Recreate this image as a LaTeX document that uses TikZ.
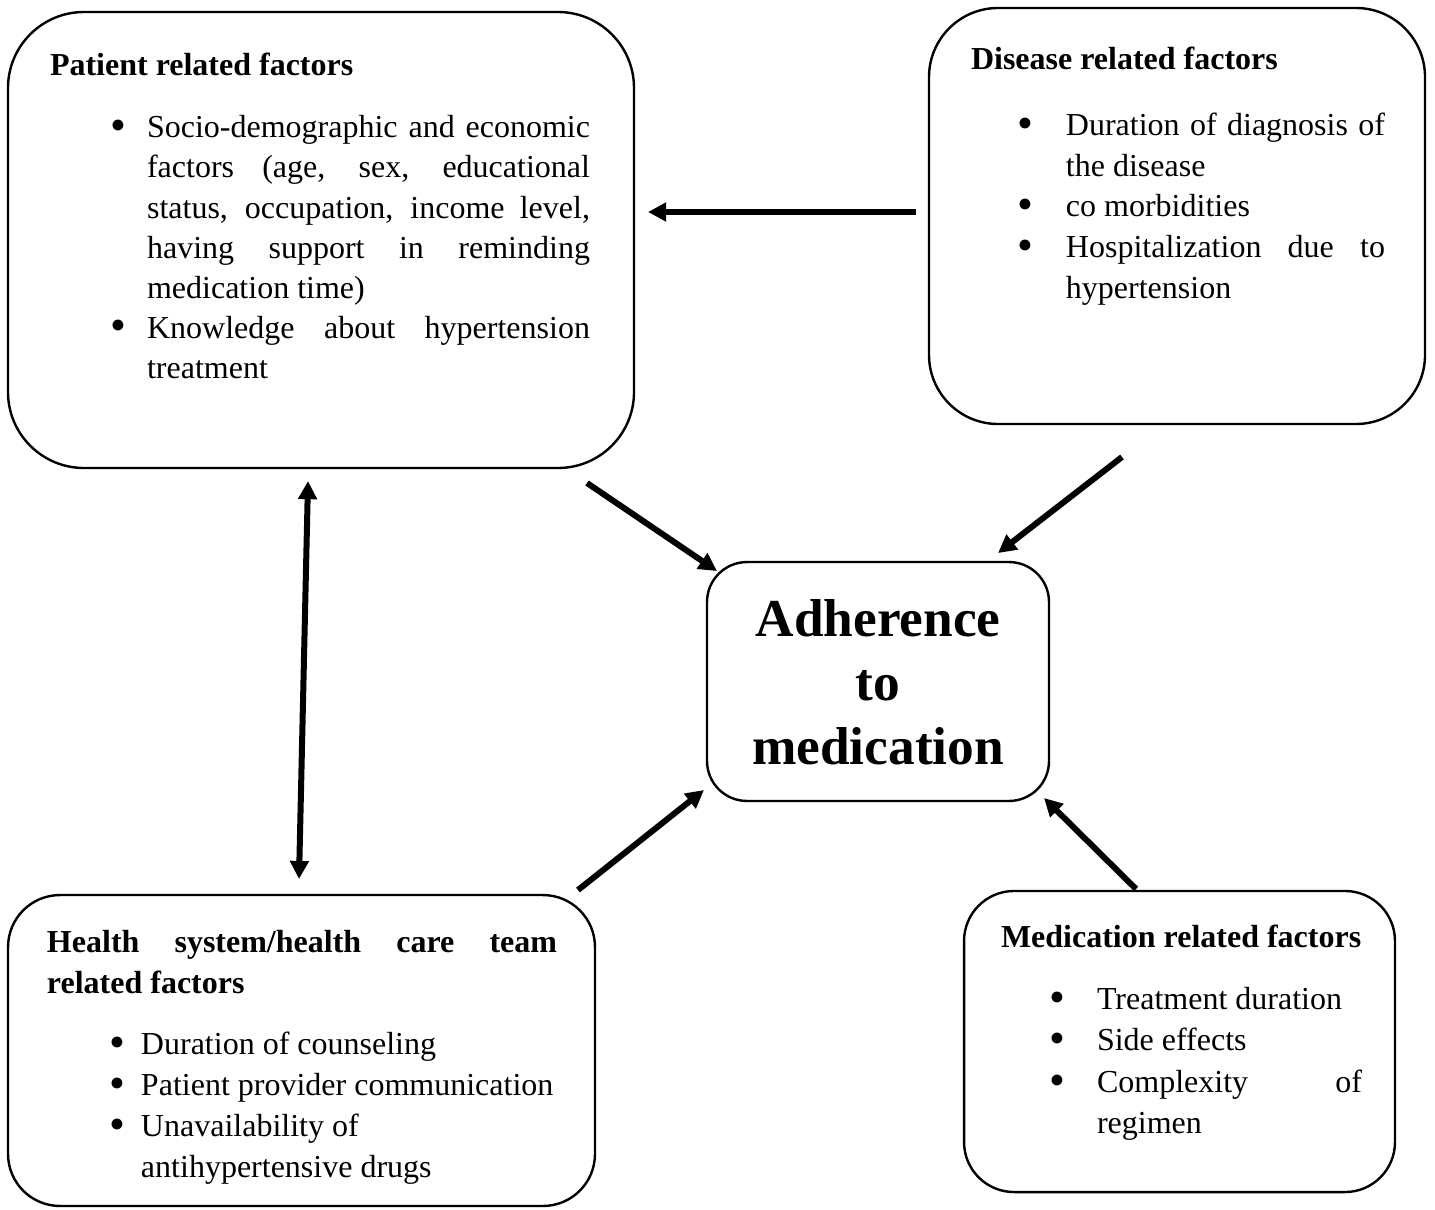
\documentclass[tikz,border=0pt]{standalone}
\usepackage{fontspec}
\setmainfont{Liberation Serif}
\usetikzlibrary{arrows.meta,calc}
\newcommand\setpen{\hyphenpenalty=10000\relax\exhyphenpenalty=10000\relax\tolerance=10000\relax}
\newcommand\bigbul{\smash{\raisebox{-1.1pt}{\fontsize{17}{17}\selectfont\textbullet}}}
\newcommand\bitem[3]{\par\noindent\hangindent=#1\hangafter=1\hbox to #1{\hskip #2\bigbul\hss}\ignorespaces #3\par}
\tikzset{
  box/.style={draw, line width=0.9pt, inner sep=0pt, outer sep=0pt},
  txt/.style={anchor=base west, inner sep=0pt, outer sep=0pt, align=justify},
  body/.style={font=\fontsize{12}{#1}\selectfont},
  arr/.style={line width=2.25pt, -{Triangle[length=6.8pt,width=6.8pt]}},
  dbl/.style={line width=2.25pt, {Triangle[length=6.8pt,width=6.8pt]}-{Triangle[length=6.8pt,width=6.8pt]}}
}
\begin{document}
\begin{tikzpicture}[x=0.375pt,y=-0.375pt]
\useasboundingbox (0,0) rectangle (1435,1209);
% boxes
\node[box, rounded corners=28.5pt, minimum width=234.75pt, minimum height=171pt] (pat) at (321,240) {};
\node[box, rounded corners=25.9pt, minimum width=186pt, minimum height=156pt] (dis) at (1177,216) {};
\node[box, rounded corners=15pt, minimum width=128.25pt, minimum height=89.6pt] (adh) at (878,681.5) {};
\node[box, rounded corners=19.5pt, minimum width=220.1pt, minimum height=116.6pt] (hea) at (301.5,1050.5) {};
\node[box, rounded corners=18.75pt, minimum width=161.6pt, minimum height=112.9pt] (med) at (1179.5,1041.5) {};
% texts
\node[txt, body=15pt, text width=202.5pt] (patT) at (50,76) {\setpen\textbf{Patient related factors}\par\vspace{8.25pt}
\bitem{36.4pt}{22.5pt}{Socio-demographic and economic\linebreak factors (age, sex, educational\linebreak status, occupation, income level,\linebreak having support in reminding\linebreak medication time)}
\bitem{36.4pt}{22.5pt}{Knowledge about hypertension\linebreak treatment}};
\node[txt, body=15.3pt, text width=155.25pt] (disT) at (971,70) {\setpen\textbf{Disease related factors}\par\vspace{9.2pt}
\bitem{35.6pt}{17.4pt}{Duration of diagnosis of\linebreak the disease}
\bitem{35.6pt}{17.4pt}{co morbidities}
\bitem{35.6pt}{17.4pt}{Hospitalization due to\linebreak hypertension}};
\node[anchor=base, inner sep=0pt, outer sep=0pt, text width=120pt, align=center, font=\fontsize{20}{24}\selectfont\bfseries] (adhT) at (878,636) {Adherence\\to\\medication};
\node[txt, body=15.4pt, text width=191.25pt] (heaT) at (47,952) {\setpen\textbf{Health system/health care team\linebreak related factors}\par\vspace{7.5pt}
\bitem{35.25pt}{23.6pt}{Duration of counseling}
\bitem{35.25pt}{23.6pt}{Patient provider communication}
\bitem{35.25pt}{23.6pt}{Unavailability of\\antihypertensive drugs}};
\node[txt, body=15.6pt, text width=135.4pt] (medT) at (1001,947) {\setpen\textbf{Medication related factors}\par\vspace{7.7pt}
\bitem{36pt}{18pt}{Treatment duration}
\bitem{36pt}{18pt}{Side effects}
\bitem{36pt}{18pt}{Complexity of\linebreak regimen}};
% connectors
\draw[arr] ($(dis.west)+(-13,-4)$) -- ($(pat.east)+(14,-28)$);
\draw[arr] ($(pat.south east)+(-47,15)$) -- ($(adh.north west)+(10,9)$);
\draw[arr] ($(dis.south)+(-55,33)$) -- ($(adh.north east)+(-51,-9)$);
\draw[dbl] ($(pat.south)+(-13,13)$) -- ($(hea.north)+(-2.5,-16)$);
\draw[arr] ($(hea.north east)+(-17,-5)$) -- ($(adh.south west)+(-3,-11)$);
\draw[arr] ($(med.north)+(-43.5,-2)$) -- ($(adh.south east)+(-5,-3)$);
\end{tikzpicture}
\end{document}
